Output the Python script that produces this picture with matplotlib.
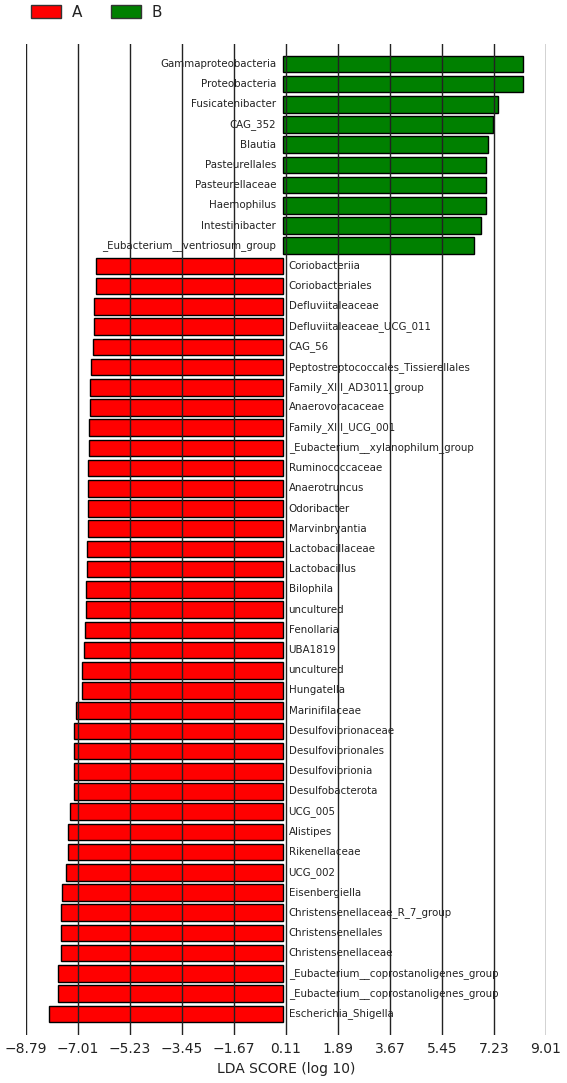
import numpy as np
import matplotlib.pyplot as plt
from matplotlib.patches import Patch

# LDA scores, listed top to bottom as in the figure
names_b = ["Gammaproteobacteria", "Proteobacteria", "Fusicatenibacter", "CAG_352",
           "Blautia", "Pasteurellales", "Pasteurellaceae", "Haemophilus",
           "Intestinibacter", "_Eubacterium__ventriosum_group"]
scores_b = [8.23, 8.23, 7.36, 7.19, 7.02, 6.96, 6.96, 6.96, 6.77, 6.55]

names_a = ["Coriobacteriia", "Coriobacteriales", "Defluviitaleaceae", "Defluviitaleaceae_UCG_011",
           "CAG_56", "Peptostreptococcales_Tissierellales", "Family_XIII_AD3011_group",
           "Anaerovoracaceae", "Family_XIII_UCG_001", "_Eubacterium__xylanophilum_group",
           "Ruminococcaceae", "Anaerotruncus", "Odoribacter", "Marvinbryantia",
           "Lactobacillaceae", "Lactobacillus", "Bilophila", "uncultured", "Fenollaria",
           "UBA1819", "uncultured", "Hungatella", "Marinifilaceae", "Desulfovibrionaceae",
           "Desulfovibrionales", "Desulfovibrionia", "Desulfobacterota", "UCG_005",
           "Alistipes", "Rikenellaceae", "UCG_002", "Eisenbergiella",
           "Christensenellaceae_R_7_group", "Christensenellales", "Christensenellaceae",
           "_Eubacterium__coprostanoligenes_group", "_Eubacterium__coprostanoligenes_group",
           "Escherichia_Shigella"]
scores_a = [-6.40, -6.40, -6.47, -6.47, -6.51, -6.57, -6.59, -6.61, -6.64, -6.65,
            -6.67, -6.68, -6.68, -6.68, -6.71, -6.71, -6.72, -6.72, -6.78, -6.80,
            -6.87, -6.87, -7.07, -7.16, -7.16, -7.16, -7.16, -7.28, -7.36, -7.37,
            -7.43, -7.55, -7.60, -7.60, -7.60, -7.71, -7.71, -8.01]

xticks = [-8.79, -7.01, -5.23, -3.45, -1.67, 0.11, 1.89, 3.67, 5.45, 7.23, 9.01]

names = names_b + names_a
scores = scores_b + scores_a
colors = ["green"] * len(names_b) + ["red"] * len(names_a)
n = len(names)
ypos = np.arange(n)[::-1]

fig = plt.figure(figsize=(5.67, 10.83), dpi=100)
ax = fig.add_axes([0.0459, 0.0443, 0.917, 0.915])

ax.barh(ypos, scores, height=0.82, color=colors, edgecolor="black", linewidth=1.0)

txtcol = "#222222"
for y, name, s in zip(ypos, names, scores):
    if s > 0:
        ax.text(-0.22, y, name, ha="right", va="center", fontsize=7.4, color=txtcol)
    else:
        ax.text(0.2, y, name, ha="left", va="center", fontsize=7.4, color=txtcol)

ax.set_xlim(xticks[0], xticks[-1])
ax.set_ylim(-1.05, n - 0.02)
ax.set_xticks(xticks)
ax.set_xticklabels([f"{t:.2f}".replace("-", "\u2212") for t in xticks], fontsize=10, color=txtcol)
ax.set_yticks([])
ax.tick_params(axis="x", length=0, pad=5)
for sp in ax.spines.values():
    sp.set_visible(False)
ax.set_axisbelow(False)
ax.xaxis.grid(True, color="#222222", linewidth=1.0)
ax.set_xlabel("LDA SCORE (log 10)", fontsize=10, color=txtcol, labelpad=4)

handles = [Patch(facecolor="red", edgecolor="#333333", label="A"),
           Patch(facecolor="green", edgecolor="#333333", label="B")]
fig.legend(handles=handles, loc="upper left", bbox_to_anchor=(0.031, 1.008), ncol=2,
           frameon=False, fontsize=11, handlelength=1.95, handleheight=0.95,
           handletextpad=0.7, columnspacing=1.9, labelcolor=txtcol)

fig.savefig("out.png", dpi=100)
